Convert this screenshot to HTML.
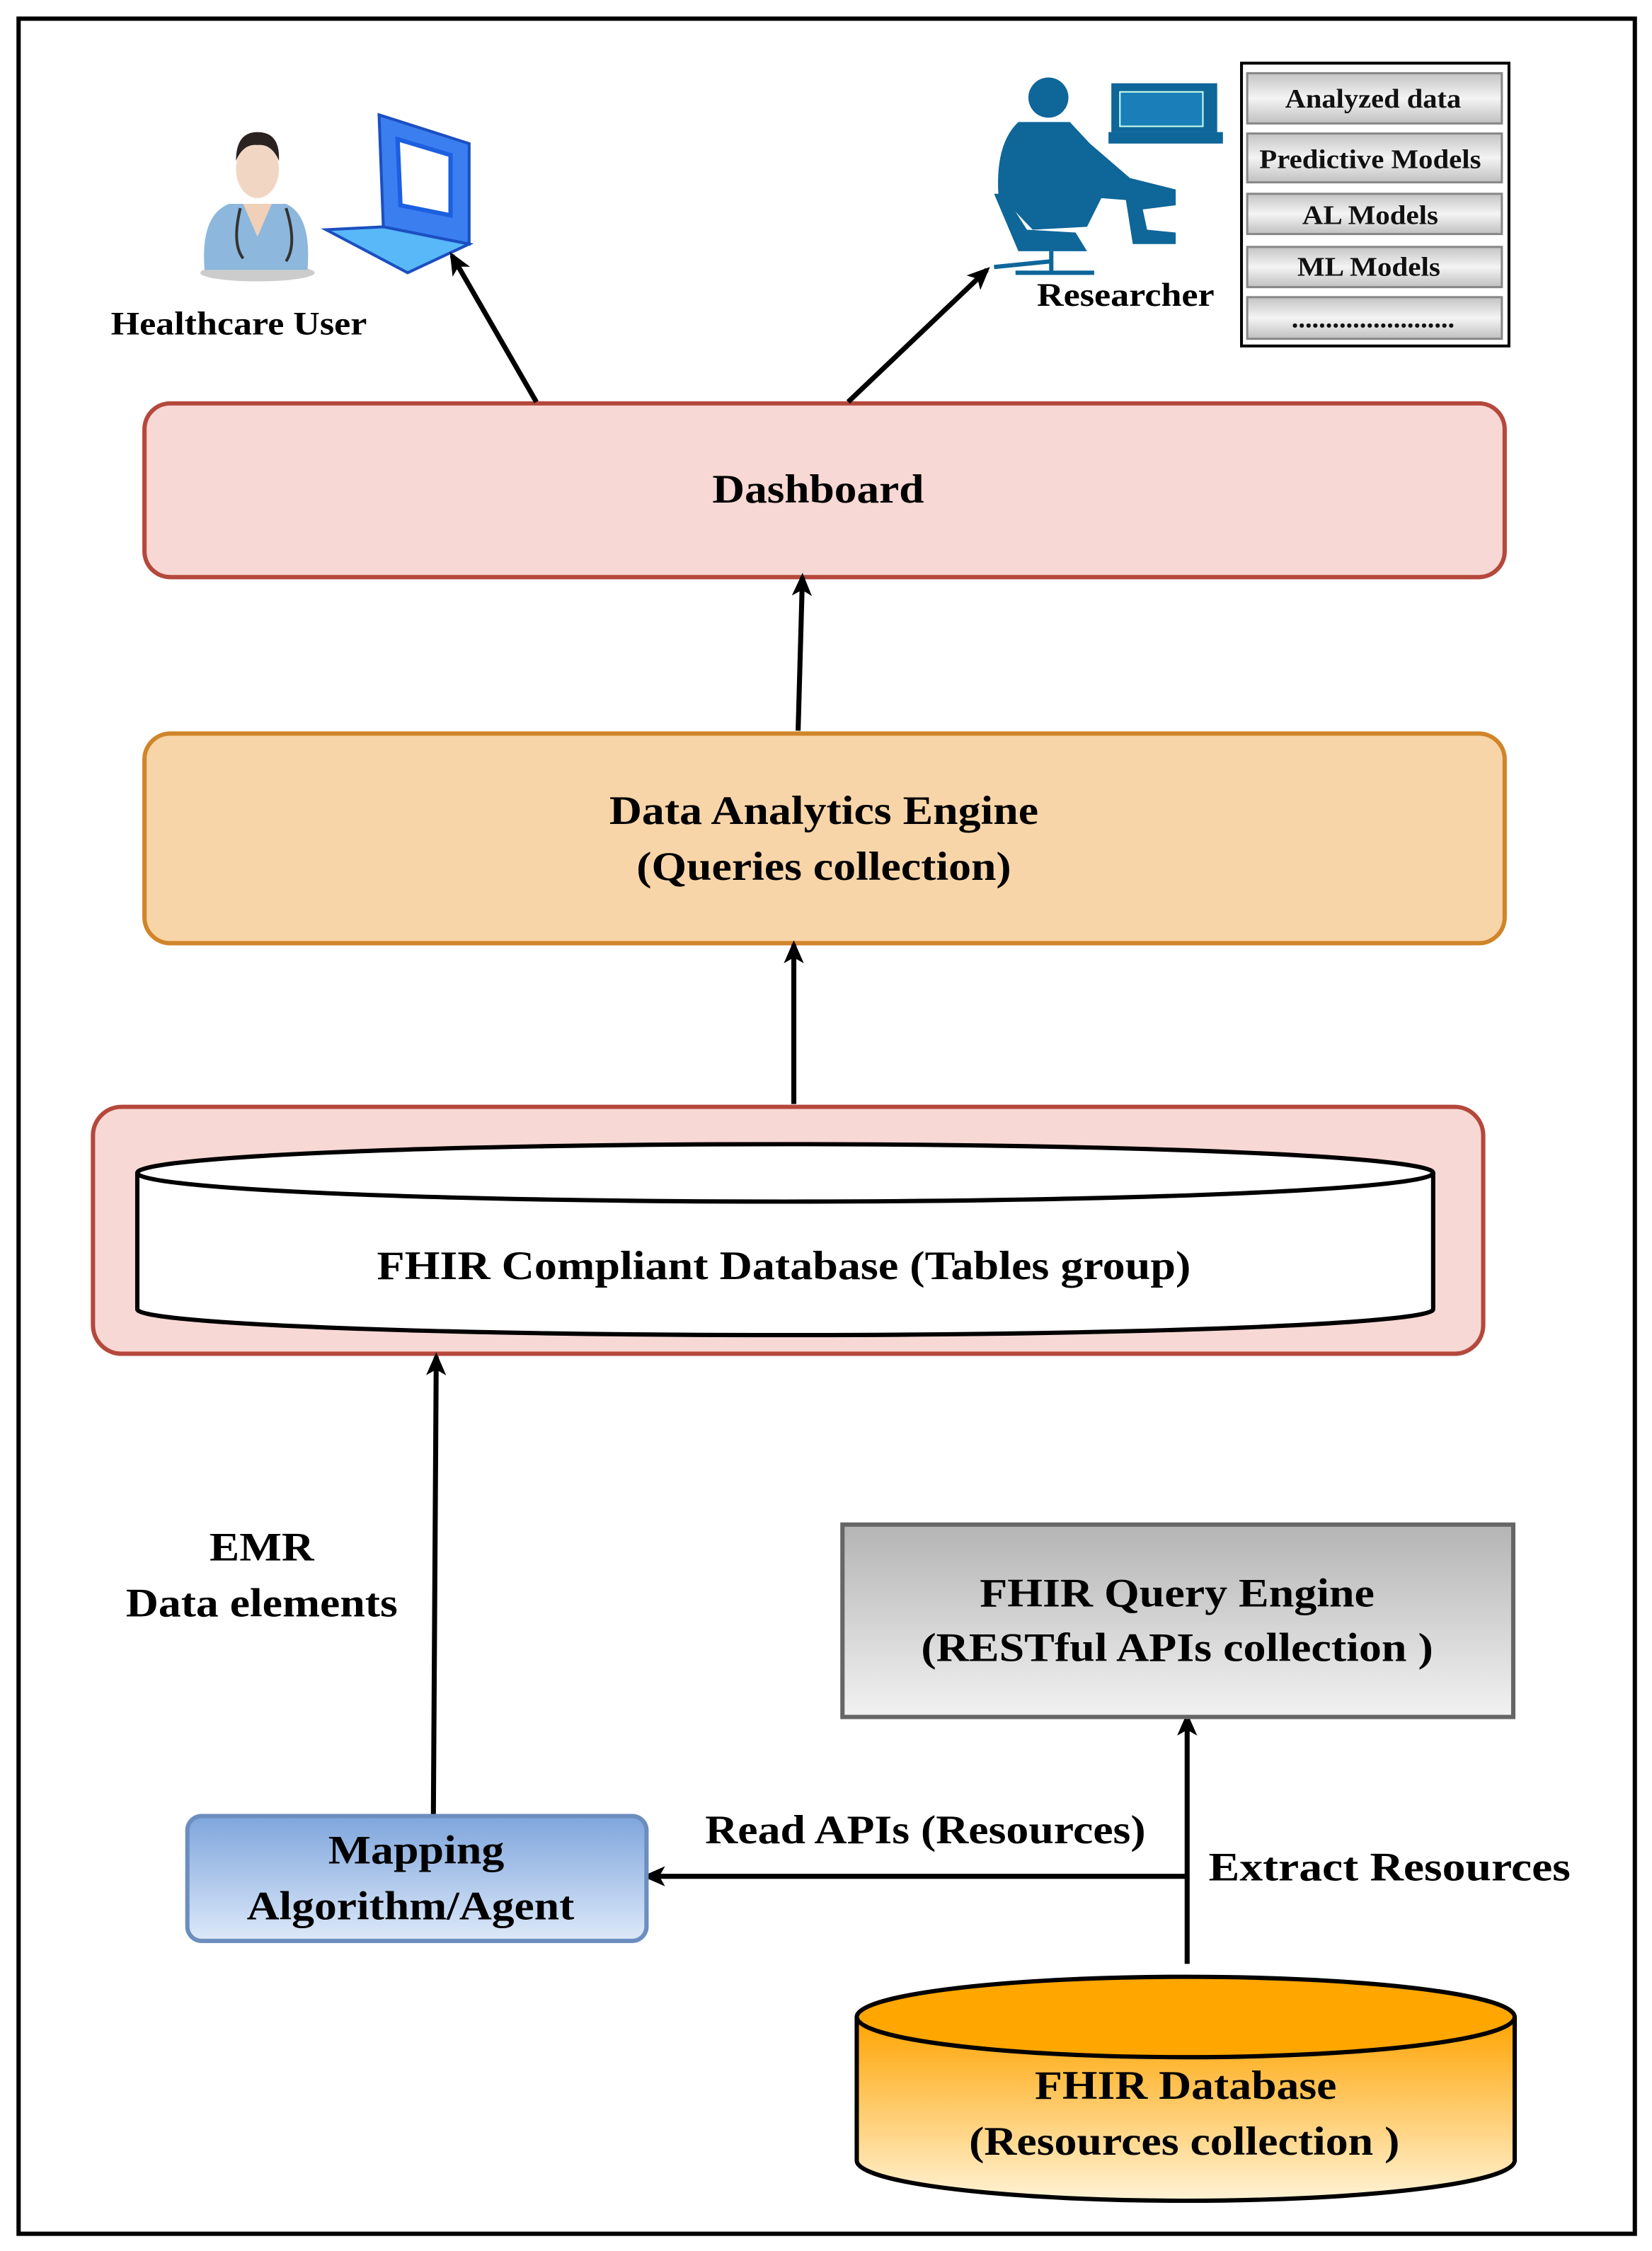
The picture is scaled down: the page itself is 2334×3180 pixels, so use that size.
<!DOCTYPE html>
<html><head><meta charset="utf-8"><style>html,body{margin:0;padding:0;background:#fff}svg{display:block}</style></head>
<body>
<svg width="2334" height="3180" viewBox="0 0 1155 1568" preserveAspectRatio="none" xmlns="http://www.w3.org/2000/svg" font-family="'Liberation Serif', serif" font-weight="bold">
<defs>
<linearGradient id="gq" x1="0" y1="0" x2="0" y2="1"><stop offset="0" stop-color="#b4b4b4"/><stop offset="1" stop-color="#f2f2f2"/></linearGradient>
<linearGradient id="gb" x1="0" y1="0" x2="0" y2="1"><stop offset="0" stop-color="#c4c4c4"/><stop offset="0.5" stop-color="#f4f4f4"/><stop offset="1" stop-color="#c0c0c0"/></linearGradient>
<linearGradient id="gm" x1="0" y1="0" x2="0" y2="1"><stop offset="0" stop-color="#7ea5dc"/><stop offset="1" stop-color="#dde9f9"/></linearGradient>
<linearGradient id="go" x1="0" y1="0" x2="0" y2="1"><stop offset="0" stop-color="#ffa300"/><stop offset="1" stop-color="#fff3d6"/></linearGradient>
<marker id="ah" markerWidth="16" markerHeight="16" refX="13" refY="8" orient="auto" markerUnits="userSpaceOnUse"><path d="M0,1 L16,8 L0,15 L4,8 Z" fill="#000"/></marker>
</defs>
<rect x="13" y="13" width="1130" height="1543" fill="#fff" stroke="#000" stroke-width="3"/>

<!-- Doctor icon -->
<ellipse cx="180" cy="190" rx="40" ry="6" fill="#ccc"/>
<path d="M143,188 Q140,150 160,142 L200,142 Q218,150 215,188 Z" fill="#8db7dc"/>
<path d="M170,142 L180,165 L190,142 Z" fill="#f0d0b8"/>
<ellipse cx="180" cy="118" rx="15" ry="20" fill="#f2d6c4"/>
<path d="M165,112 Q165,92 180,92 Q196,92 195,112 Q190,100 180,101 Q170,100 165,112 Z" fill="#2a2220"/>
<path d="M168,145 Q162,170 170,180 M200,145 Q208,170 200,182" stroke="#333" stroke-width="2" fill="none"/>
<!-- Laptop -->
<path d="M265,80 L328,100 L328,170 L268,158 Z" fill="#3a7ef0" stroke="#1c4fc0" stroke-width="2"/>
<path d="M278,97 L315,108 L315,150 L280,143 Z" fill="#fff" stroke="#1c5fe0" stroke-width="3"/>
<path d="M268,158 L328,170 L285,190 L228,160 Z" fill="#58b8f8" stroke="#1c4fc0" stroke-width="2"/>

<!-- Researcher icon -->
<g fill="#0e6699">
<circle cx="733" cy="68" r="14"/>
<path d="M712,85 Q696,100 698,135 L722,160 L760,158 L770,138 L795,140 L798,146 L822,143 L822,132 L790,124 L762,100 L748,85 Z"/>
<rect x="777" y="58" width="74" height="34"/>
<rect x="775" y="92" width="80" height="8"/>
<path d="M786,132 L796,132 L802,160 L822,162 L822,170 L792,170 Z"/>
<path d="M695,135 L712,175 L760,175 L752,162 L718,160 L702,135 Z"/>
</g>
<path d="M735,175 L735,190 M710,190 L765,190 M735,182 L695,186" stroke="#0e6699" stroke-width="3"/>
<rect x="783" y="64" width="58" height="24" fill="#1a7fb8" stroke="#cfe" stroke-width="1"/>

<!-- Researcher panel -->
<rect x="868" y="44" width="187" height="197" fill="#fff" stroke="#000" stroke-width="2"/>
<g stroke="#888" stroke-width="1.5" fill="url(#gb)">
<rect x="872" y="51" width="178" height="35"/>
<rect x="872" y="93" width="178" height="34"/>
<rect x="872" y="135" width="178" height="28"/>
<rect x="872" y="172" width="178" height="28"/>
<rect x="872" y="207" width="178" height="29"/>
</g>
<g font-size="19" text-anchor="middle" fill="#111">
<text x="960" y="75" textLength="123" lengthAdjust="spacingAndGlyphs">Analyzed data</text>
<text x="958" y="117" textLength="155" lengthAdjust="spacingAndGlyphs">Predictive Models</text>
<text x="958" y="156" textLength="95" lengthAdjust="spacingAndGlyphs">AL Models</text>
<text x="957" y="192" textLength="100" lengthAdjust="spacingAndGlyphs">ML Models</text>
<text x="960" y="228" textLength="114" lengthAdjust="spacingAndGlyphs">........................</text>
</g>
<text x="167" y="233" font-size="23" text-anchor="middle" textLength="179" lengthAdjust="spacingAndGlyphs">Healthcare User</text>
<text x="787" y="213" font-size="23" text-anchor="middle" textLength="124" lengthAdjust="spacingAndGlyphs">Researcher</text>

<!-- Dashboard -->
<rect x="101" y="281" width="951" height="121" rx="18" fill="#f8d8d4" stroke="#b5483c" stroke-width="3"/>
<text x="572" y="350" font-size="28" text-anchor="middle" textLength="148" lengthAdjust="spacingAndGlyphs">Dashboard</text>

<!-- Analytics -->
<rect x="101" y="511" width="951" height="146" rx="18" fill="#f8d5a8" stroke="#d0852a" stroke-width="3"/>
<text x="576" y="574" font-size="28" text-anchor="middle" textLength="300" lengthAdjust="spacingAndGlyphs">Data Analytics Engine</text>
<text x="576" y="613" font-size="28" text-anchor="middle" textLength="262" lengthAdjust="spacingAndGlyphs">(Queries collection)</text>

<!-- FHIR compliant -->
<rect x="65" y="771" width="972" height="172" rx="20" fill="#f8d8d4" stroke="#b5483c" stroke-width="3"/>
<path d="M96,817 L96,912 A453,18 0 0 0 1002,912 L1002,817" fill="#fff" stroke="#000" stroke-width="3"/>
<ellipse cx="549" cy="817" rx="453" ry="20" fill="#fff" stroke="#000" stroke-width="3"/>
<text x="548" y="891" font-size="28" text-anchor="middle" textLength="569" lengthAdjust="spacingAndGlyphs">FHIR Compliant Database (Tables group)</text>

<!-- arrows -->
<g stroke="#000" stroke-width="3.5" fill="none" marker-end="url(#ah)">
<line x1="375" y1="280" x2="316" y2="178"/>
<line x1="593" y1="280" x2="690" y2="188"/>
<line x1="558" y1="509" x2="561" y2="402"/>
<line x1="555" y1="769" x2="555" y2="658"/>
<line x1="303" y1="1264" x2="305" y2="945"/>
<line x1="830" y1="1368" x2="830" y2="1196"/>
<line x1="830" y1="1307" x2="452" y2="1307"/>
</g>

<text x="183" y="1087" font-size="28" text-anchor="middle" textLength="73" lengthAdjust="spacingAndGlyphs">EMR</text>
<text x="183" y="1126" font-size="28" text-anchor="middle" textLength="190" lengthAdjust="spacingAndGlyphs">Data elements</text>

<!-- Query engine -->
<rect x="589" y="1062" width="469" height="134" fill="url(#gq)" stroke="#666" stroke-width="3"/>
<text x="823" y="1119" font-size="28" text-anchor="middle" textLength="276" lengthAdjust="spacingAndGlyphs">FHIR Query Engine</text>
<text x="823" y="1157" font-size="28" text-anchor="middle" textLength="358" lengthAdjust="spacingAndGlyphs">(RESTful APIs collection )</text>

<!-- Mapping -->
<rect x="131" y="1265" width="321" height="87" rx="10" fill="url(#gm)" stroke="#6c8ebf" stroke-width="3"/>
<text x="291" y="1298" font-size="28" text-anchor="middle" textLength="123" lengthAdjust="spacingAndGlyphs">Mapping</text>
<text x="287" y="1337" font-size="28" text-anchor="middle" textLength="229" lengthAdjust="spacingAndGlyphs">Algorithm/Agent</text>

<text x="647" y="1284" font-size="28" text-anchor="middle" textLength="308" lengthAdjust="spacingAndGlyphs">Read APIs (Resources)</text>
<text x="845" y="1310" font-size="28" textLength="253" lengthAdjust="spacingAndGlyphs">Extract  Resources</text>

<!-- FHIR Database -->
<path d="M599,1405 L599,1505 A230,28 0 0 0 1059,1505 L1059,1405" fill="url(#go)" stroke="#000" stroke-width="3"/>
<ellipse cx="829" cy="1405" rx="230" ry="28" fill="#ffa600" stroke="#000" stroke-width="3"/>
<text x="829" y="1462" font-size="28" text-anchor="middle" textLength="211" lengthAdjust="spacingAndGlyphs">FHIR Database</text>
<text x="828" y="1501" font-size="28" text-anchor="middle" textLength="301" lengthAdjust="spacingAndGlyphs">(Resources collection )</text>
</svg>
</body></html>
